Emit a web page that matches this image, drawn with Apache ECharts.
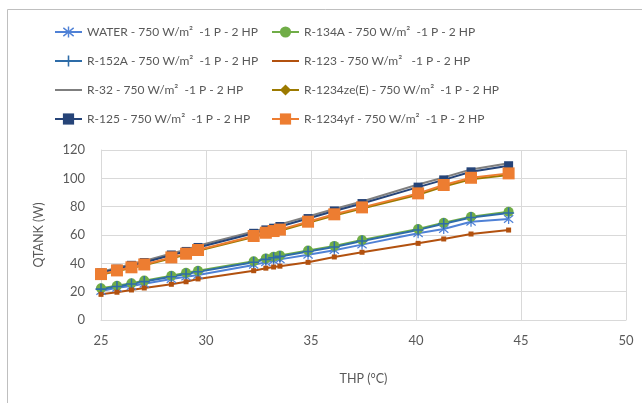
<!DOCTYPE html>
<html>
<head>
<meta charset="utf-8">
<script src="https://cdn.jsdelivr.net/npm/echarts@6/dist/echarts.min.js"></script>
<style>html,body{margin:0;padding:0;background:#fff;}#c{width:642px;height:403px;}</style>
</head>
<body>
<div id="c"></div>
<script>
const thp = [25.0, 25.76, 26.45, 27.06, 28.35, 29.05, 29.62, 32.27, 32.85, 33.22, 33.52, 34.86, 36.11, 37.43, 40.10, 41.32, 42.62, 44.41];
const water   = [20.5, 22.8, 24.0, 25.6, 28.9, 30.6, 31.8, 38.9, 40.8, 41.9, 42.8, 46.1, 49.3, 53.2, 61.2, 64.2, 69.4, 71.3];
const r134a   = [22.4, 24.2, 26.0, 27.8, 31.2, 33.3, 34.8, 41.5, 43.5, 44.6, 45.6, 49.0, 52.3, 56.5, 64.2, 68.7, 72.9, 76.4];
const r152a   = [21.8, 23.6, 25.4, 27.1, 30.5, 32.5, 34.0, 40.8, 42.8, 43.9, 44.9, 48.3, 51.6, 55.8, 63.6, 68.0, 72.3, 75.6];
const r123    = [18.1, 19.6, 21.2, 22.6, 25.2, 27.0, 29.0, 34.8, 36.6, 37.4, 38.0, 40.7, 44.5, 47.8, 54.1, 57.2, 60.7, 63.5];
const r32     = [34.0, 36.8, 39.6, 41.6, 47.0, 49.6, 52.4, 62.5, 65.0, 66.3, 67.5, 73.0, 78.4, 83.6, 95.6, 100.6, 106.3, 110.6];
const r1234ze = [32.0, 34.5, 36.7, 38.7, 43.6, 46.1, 48.8, 58.6, 60.9, 62.0, 63.0, 68.6, 73.7, 78.6, 88.4, 94.2, 99.3, 102.3];
const r125    = [33.3, 35.9, 38.6, 40.6, 45.9, 48.4, 51.2, 61.2, 63.6, 64.8, 66.0, 71.6, 77.0, 82.2, 93.8, 98.9, 104.6, 108.9];
const r1234yf = [32.4, 35.0, 37.2, 39.2, 44.2, 46.8, 49.4, 59.3, 61.6, 62.8, 63.8, 69.4, 74.6, 79.5, 89.4, 95.3, 100.4, 103.5];

const names = [
  'WATER - 750 W/m²  -1 P - 2 HP',
  'R-134A - 750 W/m²  -1 P - 2 HP',
  'R-152A - 750 W/m²  -1 P - 2 HP',
  'R-123 - 750 W/m²   -1 P - 2 HP',
  'R-32 - 750 W/m²  -1 P - 2 HP',
  'R-1234ze(E) - 750 W/m²  -1 P - 2 HP',
  'R-125 - 750 W/m²  -1 P - 2 HP',
  'R-1234yf - 750 W/m²  -1 P - 2 HP'
];
const xTicks = [25, 30, 35, 40, 45, 50];
const yTicks = [0, 20, 40, 60, 80, 100, 120];

const pair = ys => thp.map((x, i) => [x, ys[i]]);
const asterisk = 'path://M-0.6,-5H0.6V5H-0.6Z M-4.6,-3.2L-3.9,-4.2L4.6,3.2L3.9,4.2Z M-4.6,3.2L-3.9,4.2L4.6,-3.2L3.9,-4.2Z';
const cross = 'path://M-0.7,-5H0.7V-0.7H5V0.7H0.7V5H-0.7V0.7H-5V-0.7H-0.7Z';

const FONT = 'Lato, "Liberation Sans", sans-serif';
const txt = '#595959';

function s(name, data, color, symbol, size, extra) {
  return Object.assign({
    name, type: 'line', data: pair(data), symbol, symbolSize: size,
    lineStyle: { color, width: 2 }, itemStyle: { color },
    showSymbol: symbol !== 'none', animation: false, z: 2
  }, extra || {});
}

const chart = echarts.init(document.getElementById('c'), null, { renderer: 'canvas' });
chart.setOption({
  backgroundColor: '#fff',
  animation: false,
  graphic: [{
    type: 'rect', shape: { x: 7.5, y: 9.5, width: 640, height: 400 },
    style: { fill: 'none', stroke: '#bfbfbf', lineWidth: 1 }, silent: true
  }],
  grid: { left: 101, top: 150, right: 16, bottom: 83, containLabel: false },
  legend: [
    {
      orient: 'vertical', left: 49, top: 21, itemWidth: 27, itemHeight: 14, itemGap: 17,
      data: [names[0], names[2], { name: names[4], itemStyle: { opacity: 0 } }, names[6]],
      textStyle: { color: txt, fontFamily: FONT, fontSize: 12 }
    },
    {
      orient: 'vertical', left: 266, top: 21, itemWidth: 27, itemHeight: 14, itemGap: 17,
      data: [names[1], { name: names[3], itemStyle: { opacity: 0 } }, names[5], names[7]],
      textStyle: { color: txt, fontFamily: FONT, fontSize: 12 }
    }
  ],
  xAxis: {
    type: 'value', min: xTicks[0], max: xTicks[xTicks.length - 1], interval: 5,
    name: 'THP (°C)', nameLocation: 'middle', nameGap: 52,
    nameTextStyle: { color: txt, fontFamily: FONT, fontSize: 12.5 },
    axisLine: { lineStyle: { color: '#d9d9d9' } },
    axisTick: { show: false },
    axisLabel: { color: txt, fontFamily: FONT, fontSize: 13, margin: 14 },
    splitLine: { show: true, lineStyle: { color: '#d9d9d9', width: 1 } }
  },
  yAxis: {
    type: 'value', min: yTicks[0], max: yTicks[yTicks.length - 1], interval: 20,
    name: 'QTANK (W)', nameLocation: 'middle', nameGap: 56, nameRotate: 90,
    nameTextStyle: { color: txt, fontFamily: FONT, fontSize: 12.5 },
    axisLine: { show: true, lineStyle: { color: '#d9d9d9' } },
    axisTick: { show: false },
    axisLabel: { color: txt, fontFamily: FONT, fontSize: 13, margin: 16 },
    splitLine: { show: true, lineStyle: { color: '#d9d9d9', width: 1 } }
  },
  series: [
    s(names[0], water, '#4f81d6', asterisk, 10),
    s(names[1], r134a, '#70ad47', 'circle', 10),
    s(names[2], r152a, '#2e6ca8', cross, 11),
    s(names[3], r123, '#b2510f', 'rect', 5),
    s(names[4], r32, '#7f7f7f', 'none', 0),
    s(names[5], r1234ze, '#9c7a00', 'diamond', 7),
    s(names[6], r125, '#264478', 'rect', 9),
    s(names[7], r1234yf, '#ed7d31', 'rect', 12)
  ]
});
</script>
</body>
</html>
